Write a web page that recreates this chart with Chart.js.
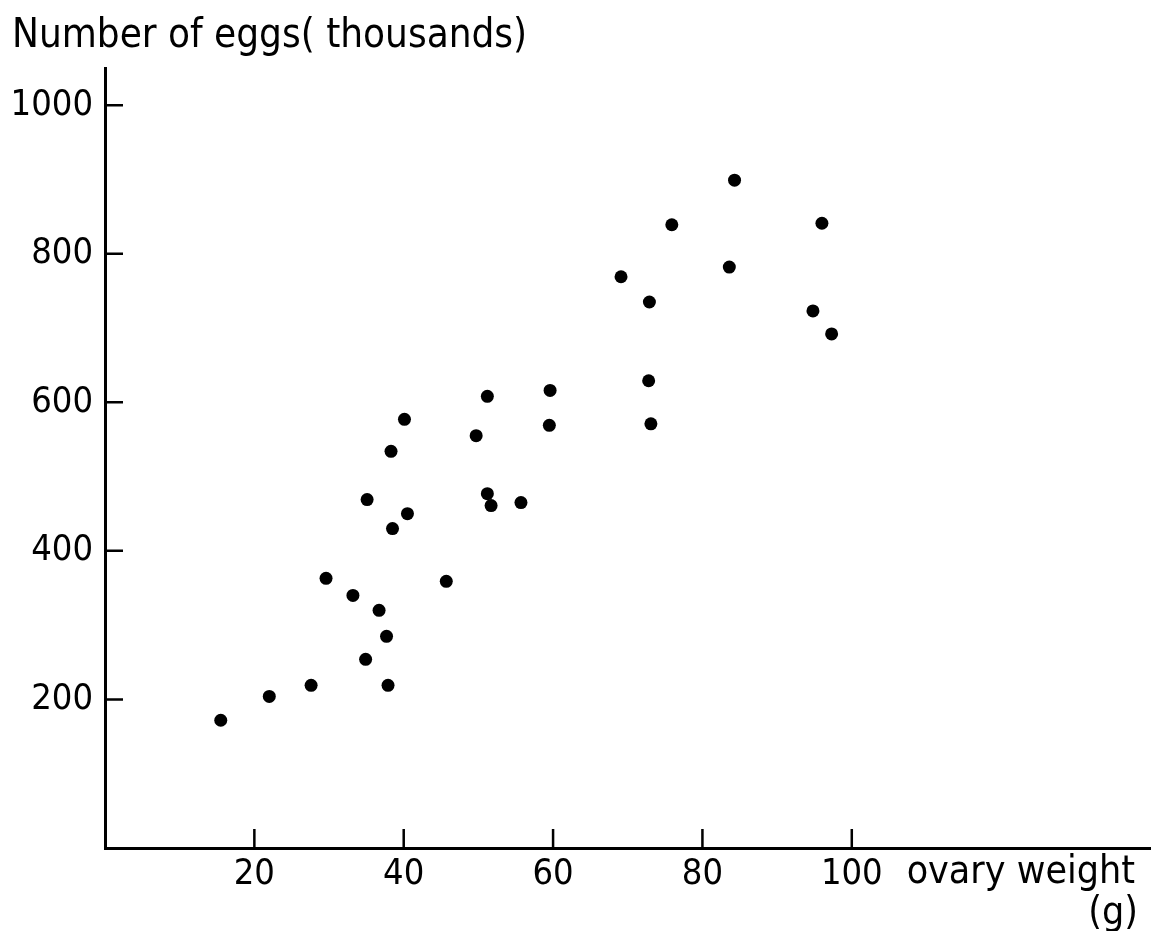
<!DOCTYPE html>
<html>
<head>
<meta charset="utf-8">
<script src="https://cdn.jsdelivr.net/npm/chart.js@4.4.1/dist/chart.umd.min.js"></script>
<style>
  html, body { margin: 0; background: #fff; }
  #wrap { position: relative; width: 1157px; height: 931px; }
</style>
</head>
<body>
<div id="wrap"><canvas id="c"></canvas></div>
<script>
// ovary weight (g) and number of eggs (thousands)
const weights = [15.5, 22.0, 27.6, 29.6, 33.2, 34.9, 35.1, 36.7, 37.7, 37.9, 38.3,
  38.5, 40.1, 40.5, 45.7, 49.7, 51.2, 51.2, 51.7, 55.7, 59.5, 59.6, 69.1, 72.9,
  72.8, 73.1, 75.9, 83.6, 84.3, 94.8, 96.0, 97.3];
const eggs = [172, 204, 219, 363, 340, 254, 469, 320, 285, 219, 534,
  430, 577, 450, 359, 555, 608, 477, 461, 465, 569, 616, 769, 735,
  629, 571, 839, 782, 899, 723, 841, 692];
const xTicks = [20, 40, 60, 80, 100];
const yTicks = [200, 400, 600, 800, 1000];
const yTitle = 'Number of eggs( thousands)';
const xTitle = 'ovary weight';
const xUnit = '(g)';

const FONT = '"DejaVu Sans Condensed", "DejaVu Sans", sans-serif';
const tickFont = { family: FONT, size: 36 };

// Ticks in the figure point inwards (right of the y axis, up from the x axis),
// which Chart.js grid ticks cannot do, so draw them from the scales here.
const inwardTicks = {
  id: 'inwardTicks',
  afterDatasetsDraw(chart) {
    const { ctx, chartArea: a, scales: { x, y } } = chart;
    ctx.save();
    ctx.strokeStyle = '#000';
    ctx.lineWidth = 2.5;
    ctx.beginPath();
    for (const v of yTicks) {
      const py = y.getPixelForValue(v);
      ctx.moveTo(a.left, py); ctx.lineTo(a.left + 18, py);
    }
    for (const v of xTicks) {
      const px = x.getPixelForValue(v);
      ctx.moveTo(px, a.bottom); ctx.lineTo(px, a.bottom - 19);
    }
    ctx.stroke();

    // axis titles sit at the ends of the axes, as in the figure
    ctx.fillStyle = '#000';
    ctx.textBaseline = 'alphabetic';
    ctx.textAlign = 'left';
    ctx.font = '40px ' + FONT;
    ctx.fillText(yTitle, 12, 47);
    ctx.textAlign = 'right';
    ctx.font = '39px ' + FONT;
    ctx.fillText(xTitle, 1135, 883);
    ctx.fillText(xUnit, 1138, 924);
    ctx.restore();
  }
};

new Chart(document.getElementById('c'), {
  type: 'scatter',
  data: {
    datasets: [{
      data: weights.map((w, i) => ({ x: w, y: eggs[i] })),
      pointRadius: 6.5,
      pointBackgroundColor: '#000',
      pointBorderWidth: 0,
    }]
  },
  options: {
    responsive: true,
    maintainAspectRatio: false,
    animation: false,
    layout: { padding: { left: 0, top: 68, right: 5, bottom: 0 } },
    plugins: { legend: { display: false }, tooltip: { enabled: false } },
    scales: {
      x: {
        type: 'linear', min: 0, max: 140,
        afterBuildTicks: s => { s.ticks = xTicks.map(v => ({ value: v })); },
        afterFit: s => { s.height = 83; },
        grid: { display: false, drawTicks: false },
        border: { display: true, color: '#000', width: 3 },
        ticks: { color: '#000', font: tickFont, padding: 5, maxRotation: 0,
                 callback: v => String(v) },
      },
      y: {
        type: 'linear', min: 0, max: 1050,
        afterBuildTicks: s => { s.ticks = yTicks.map(v => ({ value: v })); },
        afterFit: s => { s.width = 105; },
        grid: { display: false, drawTicks: false },
        border: { display: true, color: '#000', width: 3 },
        ticks: { color: '#000', font: tickFont, padding: 12,
                 callback: v => String(v) },
      }
    }
  },
  plugins: [inwardTicks]
});
</script>
</body>
</html>
